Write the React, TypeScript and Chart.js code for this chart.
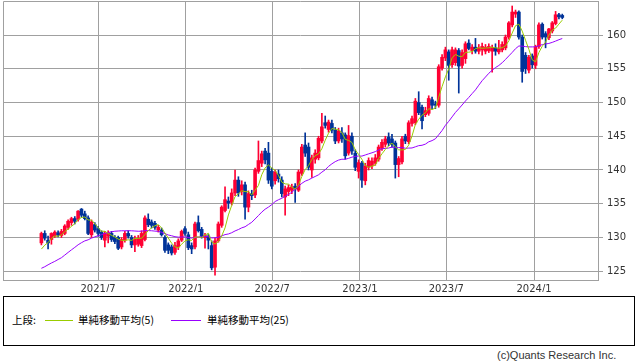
import { useEffect, useRef } from 'react';
import { Chart, registerables } from 'chart.js';

Chart.register(...registerables);

// Weekly candles, first week starting 2021-03-01
const firstWeek = '2021-03-01';

const opens = [
  129.2, 130.6, 129.6, 129.7, 130.2, 130.7, 130.3, 130.6, 131.5, 132.2,
  132.8, 132.7, 134.2, 133.5, 132.9, 130.4, 131.9, 131.3, 130.8, 129.6,
  130.2, 130.6, 130.0, 130.0, 128.6, 129.6, 130.6, 130.0, 128.9, 129.0,
  128.8, 129.7, 132.7, 132.3, 132.1, 131.1, 131.1, 130.0, 128.9, 128.6,
  127.8, 128.6, 129.6, 131.3, 130.4, 128.8, 128.6, 132.2, 131.2, 130.0,
  130.2, 128.8, 125.6, 129.5, 131.8, 134.0, 135.4, 135.2, 136.6, 138.5,
  136.8, 137.8, 134.5, 136.5, 136.3, 139.8, 141.0, 142.8, 142.5, 139.8,
  138.4, 139.4, 138.5, 136.0, 136.8, 137.0, 137.6, 137.0, 139.5, 143.7,
  143.4, 140.0, 141.6, 141.8, 144.3, 147.0, 146.0, 146.9, 145.9, 144.3,
  145.5, 145.2, 142.5, 145.0, 142.5, 139.8, 141.0, 138.4, 140.4, 140.6,
  141.0, 141.6, 143.2, 143.8, 144.9, 144.6, 144.0, 140.8, 141.2, 145.0,
  144.2, 146.9, 147.0, 150.0, 149.3, 148.2, 148.4, 150.4, 149.8, 149.6,
  155.1, 156.6, 157.5, 155.6, 155.9, 157.7, 155.5, 156.5, 158.8, 157.7,
  158.2, 157.6, 157.8, 157.6, 157.7, 157.6, 158.1, 157.5, 157.8, 158.1,
  159.7, 161.5, 163.1, 163.4, 159.7, 157.0, 154.8, 156.9, 155.5, 158.3,
  161.6, 160.2, 159.6, 160.6, 161.7, 163.0, 162.9,
];
const highs = [
  130.8, 131.0, 130.2, 130.7, 131.0, 131.0, 131.2, 131.9, 132.6, 133.0,
  133.1, 134.0, 134.3, 133.9, 133.2, 132.6, 132.2, 131.6, 131.0, 130.9,
  131.0, 130.9, 130.3, 130.2, 130.0, 130.9, 131.0, 130.3, 130.2, 130.3,
  131.0, 133.2, 133.5, 132.6, 132.4, 131.8, 131.4, 130.3, 129.2, 128.9,
  129.3, 129.8, 131.1, 131.6, 130.8, 129.2, 132.3, 133.2, 131.5, 130.6,
  130.5, 129.5, 129.9, 132.3, 134.7, 137.5, 136.0, 137.2, 140.0, 139.0,
  138.4, 138.2, 136.9, 137.0, 140.3, 144.3, 142.8, 143.2, 144.1, 140.3,
  140.0, 140.0, 139.0, 137.6, 137.8, 137.9, 138.0, 140.0, 143.8, 145.5,
  144.0, 142.2, 143.0, 145.0, 148.4, 148.0, 147.4, 147.4, 146.3, 146.2,
  146.3, 145.5, 146.6, 145.5, 143.0, 141.5, 141.3, 141.0, 141.8, 141.8,
  142.3, 143.7, 144.5, 145.0, 145.5, 145.3, 144.3, 142.0, 145.0, 145.3,
  147.3, 148.0, 150.6, 151.6, 149.6, 149.3, 151.0, 150.8, 150.2, 155.6,
  157.1, 158.2, 157.8, 158.2, 158.1, 158.0, 157.8, 159.0, 159.3, 158.6,
  159.5, 158.6, 158.8, 158.6, 158.7, 158.5, 158.7, 159.2, 159.0, 160.0,
  162.0, 164.3, 163.7, 163.6, 160.0, 157.4, 157.0, 157.2, 158.5, 161.8,
  161.8, 160.5, 161.0, 162.0, 163.5, 163.2, 163.1,
];
const lows = [
  128.9, 129.6, 128.3, 129.0, 130.0, 130.1, 130.0, 130.4, 131.2, 131.8,
  132.0, 132.4, 133.0, 132.6, 130.4, 130.0, 130.8, 130.2, 129.7, 128.6,
  129.2, 129.4, 129.1, 128.2, 128.3, 129.3, 129.9, 128.5, 127.9, 128.7,
  128.5, 129.5, 131.6, 131.4, 131.2, 130.8, 130.2, 127.8, 127.6, 127.4,
  127.5, 128.2, 129.4, 130.3, 128.2, 127.6, 128.3, 130.8, 129.9, 128.4,
  128.3, 125.2, 124.4, 129.3, 131.5, 133.8, 134.3, 134.8, 136.2, 136.1,
  136.3, 132.7, 133.8, 135.6, 135.9, 139.5, 140.5, 140.9, 138.0, 137.2,
  137.9, 138.2, 136.0, 133.3, 136.2, 136.5, 135.2, 136.8, 139.2, 142.0,
  140.0, 138.9, 141.0, 141.5, 144.0, 146.2, 145.6, 145.5, 143.9, 144.0,
  144.1, 141.6, 142.2, 142.3, 139.9, 138.8, 137.4, 137.8, 140.0, 140.2,
  140.7, 141.3, 142.9, 143.4, 143.6, 143.4, 138.8, 139.0, 140.9, 143.9,
  143.9, 146.5, 146.7, 148.2, 146.1, 147.9, 148.1, 149.0, 149.1, 149.3,
  154.8, 156.2, 153.3, 155.2, 155.5, 151.4, 155.1, 155.8, 157.8, 157.2,
  157.3, 157.2, 157.0, 157.2, 157.4, 154.5, 157.0, 157.2, 157.5, 157.8,
  159.4, 161.2, 162.6, 159.4, 153.0, 154.3, 154.4, 155.1, 155.0, 158.0,
  159.4, 158.1, 159.3, 160.3, 161.5, 162.4, 162.4,
];
const closes = [
  130.6, 129.9, 129.2, 130.6, 130.8, 130.4, 130.9, 131.7, 132.4, 132.8,
  132.4, 133.9, 133.3, 132.8, 130.6, 132.3, 131.1, 130.6, 130.0, 130.6,
  130.7, 129.7, 129.4, 128.4, 129.7, 130.6, 130.2, 128.9, 129.8, 129.9,
  130.6, 132.9, 131.9, 131.8, 131.5, 131.5, 130.4, 128.1, 128.1, 127.7,
  128.8, 129.5, 130.9, 130.6, 128.5, 128.3, 132.0, 131.0, 130.2, 130.3,
  129.6, 125.5, 129.5, 132.0, 134.5, 135.6, 135.1, 136.6, 138.5, 136.6,
  137.8, 134.5, 136.5, 136.2, 140.0, 141.4, 142.4, 141.5, 138.5, 137.6,
  139.7, 138.7, 136.5, 137.2, 137.4, 137.5, 137.2, 139.7, 143.4, 142.5,
  140.4, 141.8, 142.5, 144.7, 146.4, 146.6, 147.1, 145.9, 144.3, 145.8,
  144.6, 142.1, 145.1, 142.8, 140.4, 141.1, 138.5, 140.6, 141.4, 141.3,
  141.8, 143.4, 144.1, 144.6, 144.0, 143.8, 140.8, 141.7, 144.6, 144.3,
  147.0, 147.6, 150.2, 148.5, 147.3, 148.8, 150.6, 149.6, 149.6, 155.3,
  156.7, 157.8, 155.5, 157.8, 157.8, 155.4, 157.4, 158.7, 158.0, 158.2,
  157.6, 158.1, 158.3, 158.2, 158.3, 158.1, 157.6, 158.0, 158.6, 159.7,
  161.8, 163.4, 163.4, 159.7, 154.6, 155.0, 156.7, 155.6, 158.2, 161.5,
  159.7, 159.7, 160.9, 161.8, 163.0, 162.7, 162.6,
];
// Weekly closes of the 24 weeks before the first candle (for the moving averages)
const priorCloses = [
  124.2, 122.0, 123.9, 124.9, 123.4, 124.3, 121.9, 122.6, 123.2, 123.3,
  124.2, 125.6, 126.1, 126.6, 126.1, 126.2, 126.9, 125.9, 126.0, 127.2,
  127.0, 127.3, 127.6, 128.9,
];

const maPeriods = [5, 25];
const maLabels = ['単純移動平均(5)', '単純移動平均(25)'];
const maColors = ['#99cc00', '#9900ff'];
const xTickLabels = ['2021/7', '2022/1', '2022/7', '2023/1', '2023/7', '2024/1'];
const yTickValues = [125, 130, 135, 140, 145, 150, 155, 160];
const legendTitle = '上段:';
const creditText = '(c)Quants Research Inc.';

const UP = '#ff0033';
const DOWN = '#003399';
const GRID = '#a0a0a0';

function movingAverage(n: number): number[] {
  const all = [...priorCloses, ...closes];
  const off = priorCloses.length;
  return closes.map((_, i) => {
    let s = 0;
    for (let k = 0; k < n; k++) s += all[off + i - k];
    return s / n;
  });
}

function weekPos(label: string): number {
  const [y, m] = label.split('/').map(Number);
  const start = Date.parse(firstWeek + 'T00:00:00Z');
  return (Date.UTC(y, m - 1, 1) - start) / (7 * 864e5) - 0.45;
}

const framePlugin = {
  id: 'frame',
  beforeDatasetsDraw(chart: any) {
    const { ctx, chartArea: a } = chart;
    ctx.save();
    ctx.strokeStyle = GRID;
    ctx.lineWidth = 1;
    ctx.beginPath();
    ctx.moveTo(Math.round(a.left) + 0.5, Math.round(a.bottom));
    ctx.lineTo(Math.round(a.left) + 0.5, Math.round(a.top) + 0.5);
    ctx.lineTo(Math.round(a.right), Math.round(a.top) + 0.5);
    ctx.stroke();
    ctx.restore();
  },
};

export default function App() {
  const ref = useRef<HTMLCanvasElement | null>(null);

  useEffect(() => {
    document.body.style.margin = '0';
    const canvas = ref.current;
    if (!canvas) return;
    const colors = closes.map((c, i) => (c >= opens[i] ? UP : DOWN));
    const xTickPos = xTickLabels.map(weekPos);
    const maSets = maPeriods.map((p, k) => ({
      type: 'line' as const,
      label: maLabels[k],
      data: movingAverage(p).map((y, i) => ({ x: i, y })),
      borderColor: maColors[k],
      borderWidth: 1,
      pointRadius: 0,
      tension: 0,
      order: 0,
    }));
    const chart = new Chart(canvas, {
      type: 'bar',
      data: {
        datasets: [
          ...maSets,
          {
            type: 'bar',
            label: 'body',
            data: closes.map((c, i) => ({ x: i, y: [opens[i], c] })),
            backgroundColor: colors,
            borderWidth: 0,
            barThickness: 3,
            minBarLength: 1,
            grouped: false,
            order: 1,
          },
          {
            type: 'bar',
            label: 'wick',
            data: lows.map((l, i) => ({ x: i, y: [l, highs[i]] })),
            backgroundColor: colors,
            borderWidth: 0,
            barThickness: 1,
            grouped: false,
            order: 2,
          },
        ] as any,
      },
      options: {
        responsive: false,
        animation: false,
        devicePixelRatio: 1,
        layout: { padding: { left: 3, top: 1, right: 0, bottom: 0 } },
        plugins: { legend: { display: false }, tooltip: { enabled: false } },
        scales: {
          x: {
            type: 'linear',
            min: -11.5,
            max: 166.7,
            offset: false,
            afterBuildTicks: (s: any) => {
              s.ticks = xTickPos.map((v) => ({ value: v }));
            },
            afterFit: (s: any) => {
              s.height = 12;
              s.paddingLeft = 0;
              s.paddingRight = 0;
            },
            grid: { color: GRID, drawTicks: false, lineWidth: 1, offset: false },
            border: { display: true, color: GRID },
            ticks: {
              padding: 3,
              autoSkip: false,
              maxRotation: 0,
              color: '#333',
              font: { family: 'DejaVu Sans', size: 10 },
              callback: (_v: any, idx: number) => xTickLabels[idx],
            },
          },
          y: {
            position: 'right',
            min: 123.7,
            max: 165.04,
            afterBuildTicks: (s: any) => {
              s.ticks = yTickValues.map((v) => ({ value: v }));
            },
            afterFit: (s: any) => {
              s.width = 40;
              s.paddingTop = 0;
              s.paddingBottom = 0;
            },
            grid: { color: GRID, drawTicks: true, tickLength: 5, lineWidth: 1 },
            border: { display: true, color: GRID },
            ticks: {
              padding: 4,
              color: '#333',
              font: { family: 'DejaVu Sans', size: 10 },
            },
          },
        },
      } as any,
      plugins: [framePlugin],
    });
    return () => chart.destroy();
  }, []);

  const cjk = '"Noto Sans CJK JP", sans-serif';
  const legendText = { position: 'absolute' as const, top: 312, fontFamily: cjk, fontSize: 10.5, lineHeight: '16px', color: '#000', whiteSpace: 'nowrap' as const };
  return (
    <div style={{ position: 'relative', width: 638, height: 362, background: '#fff', overflow: 'hidden' }}>
      <canvas ref={ref} width={638} height={292} style={{ position: 'absolute', left: 0, top: 0 }} />
      <div
        style={{
          position: 'absolute',
          left: 3,
          top: 296,
          width: 632,
          height: 50,
          boxSizing: 'border-box',
          border: '1px solid #000',
        }}
      />
      <span style={{ ...legendText, left: 12 }}>{legendTitle}</span>
      <div style={{ position: 'absolute', left: 45, top: 320, width: 28, height: 1, background: maColors[0] }} />
      <span style={{ ...legendText, left: 78 }}>{maLabels[0]}</span>
      <div style={{ position: 'absolute', left: 171, top: 320, width: 30, height: 1, background: maColors[1] }} />
      <span style={{ ...legendText, left: 207 }}>{maLabels[1]}</span>
      <span
        style={{
          position: 'absolute',
          left: 497,
          top: 349,
          fontFamily: '"Liberation Sans", Arial, sans-serif',
          fontSize: 11,
          lineHeight: '13px',
          color: '#333',
          whiteSpace: 'nowrap',
        }}
      >
        {creditText}
      </span>
    </div>
  );
}
